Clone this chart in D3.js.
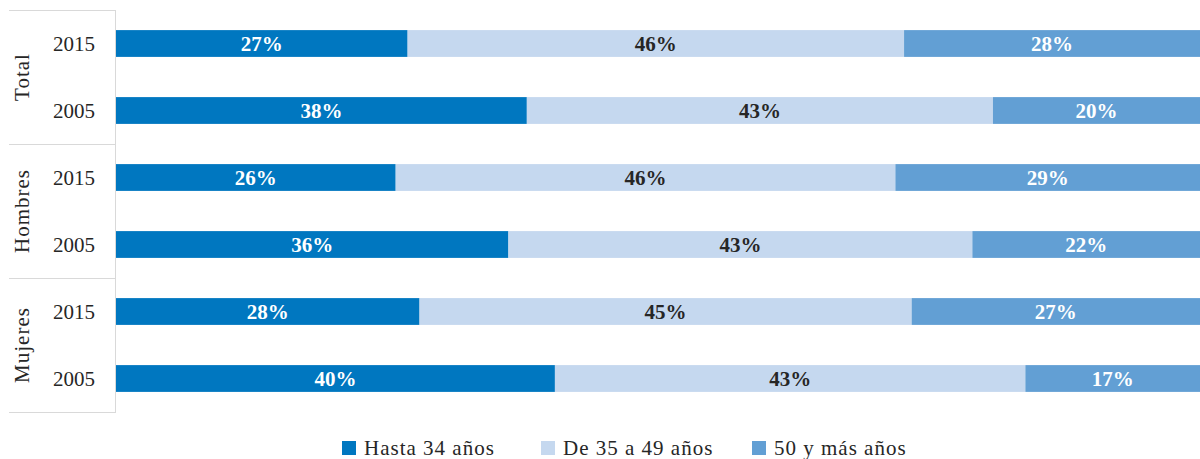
<!DOCTYPE html>
<html><head><meta charset="utf-8">
<script src="https://cdn.jsdelivr.net/npm/d3@7"></script>
<style>body{margin:0;background:#fff;} svg{display:block;}</style>
</head><body>
<svg id="c" width="1200" height="459"></svg>
<script>
const groups = ["Total", "Hombres", "Mujeres"];
const years = ["2015", "2005"];
const seriesNames = ["Hasta 34 años", "De 35 a 49 años", "50 y más años"];
const colors = ["#0077C0", "#C5D8EF", "#629FD4"];
const labelColors = ["#ffffff", "#262626", "#ffffff"];
// rows in order: Total 2015, Total 2005, Hombres 2015, Hombres 2005, Mujeres 2015, Mujeres 2005
const hasta34 = [26.9, 37.9, 25.8, 36.2, 28.0, 40.49];
const de35a49 = [45.8, 43.0, 46.1, 42.8, 45.4, 43.4];
const mas50   = [27.5, 19.5, 28.5, 21.5, 26.6, 16.6];

const svg = d3.select("#c");
const fontFam = "'Liberation Serif', 'DejaVu Serif', serif";
const x = d3.scaleLinear().domain([0, 100]).range([116, 1200]);
const rowKeys = [];
groups.forEach(g => years.forEach(y => rowKeys.push(g + "|" + y)));
const yBand = d3.scaleBand().domain(rowKeys).range([10, 412]).paddingInner(0.6).paddingOuter(0.3);

const rows = rowKeys.map((k, i) => ({key: k, vals: [hasta34[i], de35a49[i], mas50[i]]}));
const stacked = d3.stack().keys([0,1,2]).value((d, k) => d.vals[k])(rows);

// left frame
const gridC = "#d9d9d9";
svg.append("line").attr("x1", 115.5).attr("x2", 115.5).attr("y1", 10).attr("y2", 412.5).attr("stroke", gridC);
[10, 144, 278, 412].forEach(v => {
  svg.append("line").attr("x1", 9).attr("x2", 116).attr("y1", v + 0.5).attr("y2", v + 0.5).attr("stroke", gridC);
});

stacked.forEach((s, si) => {
  const g = svg.append("g");
  g.selectAll("rect").data(s).join("rect")
    .attr("x", d => x(d[0]))
    .attr("width", d => x(d[1]) - x(d[0]))
    .attr("y", d => yBand(d.data.key))
    .attr("height", yBand.bandwidth())
    .attr("fill", colors[si]);
  g.selectAll("text").data(s).join("text")
    .attr("x", d => (x(d[0]) + Math.min(x(d[1]), 1200)) / 2)
    .attr("y", d => yBand(d.data.key) + yBand.bandwidth() / 2)
    .attr("dy", "0.34em")
    .attr("text-anchor", "middle")
    .attr("font-family", fontFam)
    .attr("font-weight", "bold")
    .attr("font-size", 21)
    .attr("fill", labelColors[si])
    .text(d => Math.round(d[1] - d[0]) + "%");
});

// year labels
svg.append("g").selectAll("text").data(rowKeys).join("text")
  .attr("x", 95)
  .attr("y", d => yBand(d) + yBand.bandwidth() / 2)
  .attr("dy", "0.34em")
  .attr("text-anchor", "end")
  .attr("font-family", fontFam)
  .attr("font-size", 21)
  .attr("fill", "#262626")
  .text(d => d.split("|")[1]);

// group labels
const gy = d3.scaleBand().domain(groups).range([10, 412]);
svg.append("g").selectAll("text").data(groups).join("text")
  .attr("transform", d => `translate(29,${gy(d) + gy.bandwidth() / 2}) rotate(-90)`)
  .attr("text-anchor", "middle")
  .attr("font-family", fontFam)
  .attr("font-size", 21)
  .attr("letter-spacing", 1)
  .attr("fill", "#262626")
  .text(d => d);

// legend
const legX = [342, 541, 752];
const lg = svg.append("g");
seriesNames.forEach((n, i) => {
  lg.append("rect").attr("x", legX[i]).attr("y", 441).attr("width", 14).attr("height", 14).attr("fill", colors[i]);
  lg.append("text").attr("x", legX[i] + 22).attr("y", 448).attr("dy", "0.34em")
    .attr("font-family", fontFam).attr("font-size", 21).attr("letter-spacing", 1)
    .attr("fill", "#262626").text(n);
});
</script>
</body></html>
